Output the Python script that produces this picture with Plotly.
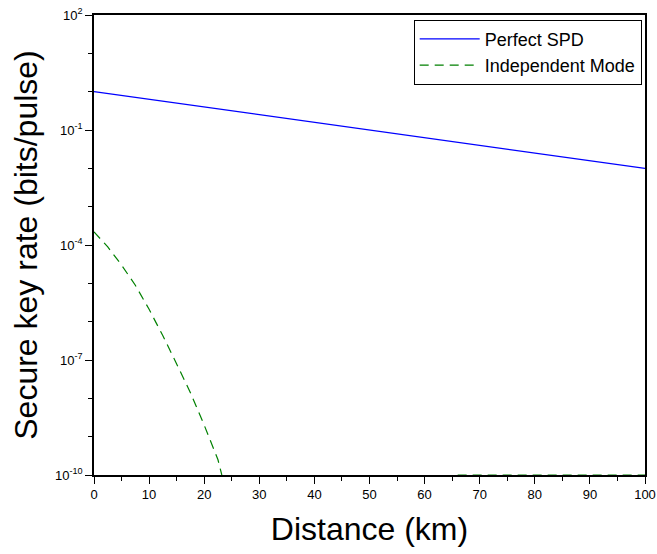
import plotly.graph_objects as go

# Data
distance_spd = [0, 10, 20, 30, 40, 50, 60, 70, 80, 90, 100]
rate_spd = [1.0, 0.63, 0.40, 0.25, 0.16, 0.10, 0.063, 0.040, 0.025, 0.016, 0.010]

distance_ind = [0, 2.5, 5, 7.5, 10, 12.5, 15, 17.5, 20, 22.5, 23.2, None, 66, 100]
rate_ind = [2.2e-4, 8.9e-5, 3.0e-5, 8.9e-6, 2.1e-6, 4.3e-7, 7.9e-8, 1.4e-8,
            2.0e-9, 2.5e-10, 1.0e-10, None, 1.0e-10, 1.0e-10]

ytick_vals = [1e-10, 1e-7, 1e-4, 1e-1, 1e2]
ytick_text = ["10<sup>-10</sup>", "10<sup>-7</sup>", "10<sup>-4</sup>", "10<sup>-1</sup>", "10<sup>2</sup>"]

FONT = "Liberation Sans, Arial, sans-serif"

fig = go.Figure()
fig.add_trace(go.Scatter(x=distance_spd, y=rate_spd, mode="lines", name="Perfect SPD",
                         line=dict(color="#0000ff", width=1.2)))
fig.add_trace(go.Scatter(x=distance_ind, y=rate_ind, mode="lines", name="Independent Mode",
                         connectgaps=False,
                         line=dict(color="#008000", width=1.2, dash="9px,6px")))

fig.update_layout(
    width=657, height=554,
    margin=dict(l=94, r=12, t=15, b=79),
    paper_bgcolor="white", plot_bgcolor="white",
    font=dict(family=FONT, color="black", size=13),
    legend=dict(x=0.994, y=0.99, xanchor="right", yanchor="top",
                bgcolor="white", bordercolor="black", borderwidth=1,
                font=dict(size=18, family=FONT), itemwidth=60, tracegroupgap=2),
    showlegend=True,
)
fig.update_xaxes(
    range=[0, 100], tick0=0, dtick=10, automargin=False,
    ticklabeloverflow="allow",
    showline=True, linecolor="black", linewidth=1.5, mirror=True,
    ticks="outside", ticklen=7, tickwidth=1.3, tickcolor="black",
    minor=dict(dtick=5, ticks="outside", ticklen=4, tickcolor="black", tickwidth=1),
    showgrid=False, zeroline=False,
    tickfont=dict(size=13),
    title=dict(text="Distance (km)", font=dict(size=32), standoff=16),
)
fig.update_yaxes(
    type="log", range=[-10, 2], automargin=False,
    ticklabeloverflow="allow",
    tickvals=ytick_vals, ticktext=ytick_text,
    showline=True, linecolor="black", linewidth=1.5, mirror=True,
    ticks="outside", ticklen=7, tickwidth=1.3, tickcolor="black",
    minor=dict(tickvals=[1e-9, 1e-8, 1e-6, 1e-5, 1e-3, 1e-2, 1e0, 1e1],
               ticks="outside", ticklen=4, tickcolor="black", tickwidth=1),
    showgrid=False, zeroline=False,
    tickfont=dict(size=13),
    title=dict(text="Secure key rate (bits/pulse)", font=dict(size=32), standoff=8),
)

fig.write_html("out.html")
